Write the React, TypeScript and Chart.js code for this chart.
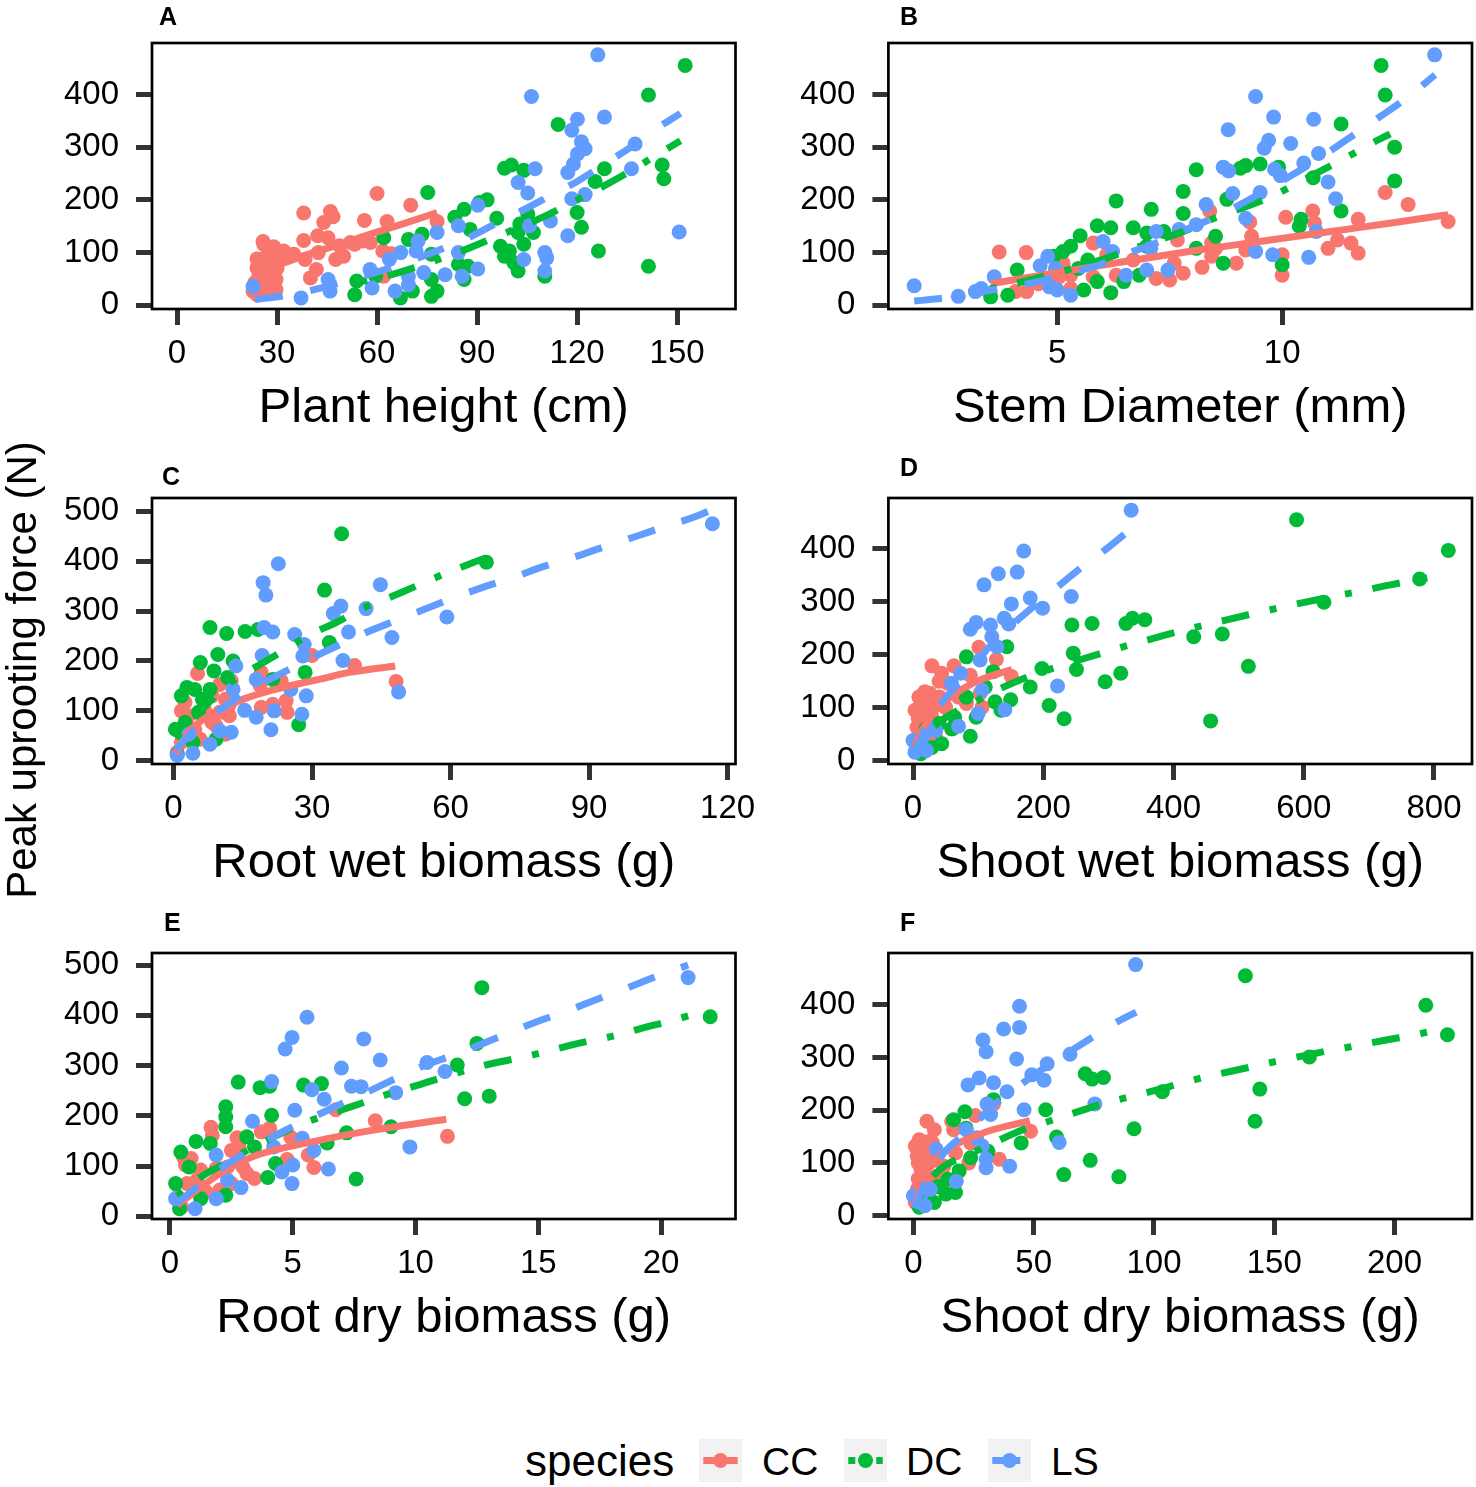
import { useEffect, useRef } from 'react'
import { Chart, registerables } from 'chart.js'

Chart.register(...registerables)

const FONT = "'Liberation Sans', Arial, Helvetica, sans-serif"
const CC_COLOR = '#F8766D'
const DC_COLOR = '#00BA38'
const LS_COLOR = '#619CFF'
const DASH_DC = [7, 21, 28, 21]
const DASH_LS = [28, 28]

type Pt = [number, number]

// y tick labels
const Y_TICKS_400 = [0, 100, 200, 300, 400]
const Y_TICKS_500 = [0, 100, 200, 300, 400, 500]

// A: plant height (cm)
const A_XTICKS = [0, 30, 60, 90, 120, 150]
const A_CC: Pt[] = [[60,212],[70.1,190],[38,175],[46,178],[44,157],[46.8,168],[56.2,161],[63,159],[78,159],[26,116],[29,111],[38,123],[42.2,132],[45.3,128],[52,119],[55.6,122],[58,119],[61.7,103],[64.3,98],[32,103],[35,97],[38.4,87],[42.4,100],[47.6,87],[50,93],[25.7,81],[24,71],[28,62],[40,52],[41.8,68],[23.4,43],[26.8,33],[22.8,27],[29.7,49],[30.9,87],[62,55],[48.7,113],[53.3,116],[24.5,55],[28.5,81],[29.7,30],[25.8,121],[27,95],[24,88],[26,60],[25,45],[27,40],[23,35],[28,75],[30,70],[24,20]]
const A_DC: Pt[] = [[152.4,455],[141.4,399],[114.3,343],[75.2,214],[98.2,260],[100.3,266],[104,256],[145.5,266],[146,240],[128.2,259],[125.4,235],[93,200],[90.7,195],[86.1,182],[83.3,167],[95.9,165],[105.2,173],[120,176],[121.3,148],[87.9,144],[102.8,154],[102.3,138],[106.9,138],[104,116],[97,112],[99.7,103],[98.2,93],[101,81],[102.3,65],[126.4,103],[141.4,74],[110.3,55],[62,128],[69.4,125],[73.5,135],[76.3,97],[84.4,78],[87.3,74],[86.1,49],[53.9,46],[53.3,20],[59.6,55],[67,14],[70.6,27],[76.3,17],[78,27],[76.3,49]]
const A_LS: Pt[] = [[126.2,475],[106.3,396],[120.1,353],[128.2,357],[118.4,332],[121.3,310],[122.4,297],[120.1,287],[118.9,268],[117.2,252],[137.4,306],[136.3,259],[107.4,259],[102.3,233],[105.2,213],[122.4,210],[118.4,202],[90.2,190],[112,160],[105.7,151],[117.2,132],[150.6,139],[84.4,151],[78,138],[72.3,122],[71.7,103],[67.1,100],[63.7,87],[110.3,100],[110.9,90],[104,87],[110.3,65],[90.2,69],[85.5,55],[57.9,68],[69.4,55],[74,62],[80.4,58],[58.5,33],[65.4,27],[69.4,39],[45.3,49],[45.9,27],[37.2,14],[22.8,36],[84.4,100]]
const A_CC_FIT: Pt[] = [[23.5,62],[30,76],[40,98],[50,118],[58,135],[68,155],[78,176]]
const A_DC_FIT: Pt[] = [[55,45],[62.5,55],[71,71],[87,107],[95,128],[111,171],[119.5,198],[134.5,249],[142,278],[151,312]]
const A_LS_FIT: Pt[] = [[23.4,11],[32,18],[42,31],[50,45],[60,63],[68,80],[79,106],[87,127],[95,153],[103,178],[112,208],[120,235],[128,267],[137,304],[144,336],[151,364]]

// B: stem diameter (mm)
const B_XTICKS = [5, 10]
const B_CC: Pt[] = [[12.29,214],[12.8,191],[13.69,159],[11.69,163],[10.08,167],[10.68,179],[10.72,156],[9.28,158],[8.39,179],[9.32,131],[8.43,118],[9.19,105],[11.02,108],[11.23,124],[11.53,118],[11.69,99],[10,96],[10,57],[8.98,80],[8.22,72],[7.5,48],[7.2,51],[7.8,61],[7.6,80],[7.67,124],[6.69,86],[5.8,118],[6.1,96],[6.31,57],[5.8,54],[5.13,80],[5.3,57],[5.3,32],[5.04,54],[4.83,45],[4.58,41],[4.32,26],[4.07,26],[3.71,101],[4.31,100],[8.52,108],[8.43,93]]
const B_DC: Pt[] = [[12.2,455],[12.29,399],[11.31,344],[12.5,300],[12.5,236],[11.31,179],[10.69,242],[10.42,163],[10.38,150],[9.92,262],[9.51,268],[9.19,265],[9.07,260],[8.09,257],[7.8,216],[8.77,201],[7.09,182],[7.8,174],[6.31,198],[5.89,151],[6.19,147],[6.69,147],[6.99,137],[7.37,140],[5.51,132],[5.3,112],[5.13,102],[6.99,112],[8.09,108],[8.52,131],[8.69,80],[10,77],[5.68,86],[5.47,70],[4.11,67],[6.48,45],[6.19,24],[5.59,29],[6.82,57],[5.89,45],[3.52,16],[3.9,19],[4.92,93]]
const B_LS: Pt[] = [[13.39,475],[9.41,396],[9.81,357],[10.7,353],[8.8,333],[9.7,313],[9.6,298],[10.19,307],[10.81,288],[10.48,270],[8.69,262],[8.81,255],[9.83,258],[9.96,246],[11.02,234],[11.19,202],[8.9,212],[9.51,214],[8.31,191],[9.19,165],[8.09,153],[7.71,144],[7.2,140],[7.08,108],[9.41,102],[9.79,96],[10.59,91],[10.76,140],[6.02,121],[6.23,102],[4.79,93],[4.62,75],[4.96,70],[6.99,67],[7.46,67],[6.53,57],[3.6,54],[4.83,35],[5,29],[5.3,19],[3.31,32],[3.18,26],[2.8,17],[1.82,37]]
const B_CC_FIT: Pt[] = [[3.52,41],[5,62],[6.5,83],[8,103],[9.5,121],[11,139],[12.5,157],[13.69,172]]
const B_DC_FIT: Pt[] = [[3.5,31],[4.24,45],[4.79,57],[5.97,86],[6.61,105],[7.92,144],[8.52,166],[9.7,204],[10.3,230],[11.44,281],[12.03,309],[12.4,325]]
const B_LS_FIT: Pt[] = [[1.82,8],[2.5,14],[3.14,24],[3.86,33],[4.62,46],[5.25,60],[5.97,78],[6.61,100],[7.29,121],[7.88,144],[8.56,169],[9.15,195],[9.79,226],[10.38,255],[11.02,290],[11.57,322],[12.16,357],[12.75,392],[13.4,437]]

// C: root wet biomass (g)
const C_XTICKS = [0, 30, 60, 90, 120]
const C_CC: Pt[] = [[30,211],[39.2,191],[48.2,159],[5.2,175],[10,153],[12.5,160],[19,177],[18.75,151],[23.3,160],[19,107],[21.5,113],[24.4,120],[24.6,97],[11.25,123],[8.3,130],[2.5,117],[1.7,100],[3.3,90],[2.5,70],[6.7,103],[10,97],[12.1,90],[9.2,70],[11.25,53],[5.8,43],[0.8,17],[1.7,37],[4.6,63],[12.1,113],[8.3,77],[3.3,50]]
const C_DC: Pt[] = [[36.4,455],[67.75,398],[32.7,342],[7.9,267],[11.5,255],[15.5,259],[18.3,263],[33.75,237],[9.6,213],[5.8,197],[8.75,180],[12.9,200],[28.5,177],[21.5,163],[2.9,147],[4.6,143],[7.9,143],[27.1,72],[0.4,63],[5.4,97],[1.7,130],[6.25,123],[9.2,43],[0.8,13],[4.2,37],[11.7,167],[2.5,77]]
const C_LS: Pt[] = [[116.7,475],[22.7,395],[19.4,357],[20,332],[44.8,353],[41.7,305],[36.25,310],[34.6,295],[19.6,267],[21.5,258],[26.25,253],[28.3,233],[37.9,258],[47.3,247],[59.2,288],[19.2,211],[28,210],[36.7,201],[13.5,190],[17.9,163],[25.4,143],[28.75,130],[48.75,138],[15.4,101],[17.9,87],[21.8,100],[27.8,93],[21.1,62],[12.5,57],[7.9,33],[4.2,15],[0.8,11],[12.9,143],[3.3,53],[10,60]]
const C_CC_FIT: Pt[] = [[0.5,15],[3,55],[6,80],[10,103],[15,123],[20,138],[26,152],[32,164],[38,177],[48,190]]
const C_DC_FIT: Pt[] = [[0.5,45],[4.2,83],[8.75,127],[13.3,163],[18.75,193],[24.2,223],[29.6,253],[35.4,278],[40.8,305],[46.7,327],[52.5,350],[58.3,373],[64.5,396],[67.7,407]]
const C_LS_FIT: Pt[] = [[0.5,22],[5.4,70],[11.25,110],[16.7,143],[22.9,173],[29.2,203],[35.4,230],[41.7,257],[47.9,280],[54.2,303],[60.8,327],[67.1,348],[73.75,368],[80,389],[86.7,408],[93.3,429],[99.6,448],[106.25,469],[112.9,489],[116.5,503]]

// D: shoot wet biomass (g)
const D_XTICKS = [0, 200, 400, 600, 800]
const D_CC: Pt[] = [[101,214],[128,191],[151,159],[29,179],[63,179],[44,165],[88,161],[103,127],[106,101],[59,60],[9,120],[20.5,95],[29,82],[41,120],[26,127],[6,63],[12,44],[35,44],[6,25],[17.6,32],[53,146],[70,120],[15,108],[35,70],[82,108],[3,95],[10,100],[18,130],[25,110],[8,80],[15,70],[40,150],[50,100]]
const D_DC: Pt[] = [[589,455],[822,397],[778,343],[631,299],[244,256],[275,259],[327,259],[337,269],[356,266],[431,234],[475,239],[246,203],[251,172],[198,174],[295,149],[319,165],[515,178],[457,75],[232,79],[209,104],[180,139],[144,215],[82,196],[123,168],[111,139],[150,115],[126,111],[135,95],[88,46],[97,82],[64,82],[44,32],[29,25],[12,13],[82,120],[20,60],[40,70],[60,60]]
const D_LS: Pt[] = [[335,473],[170,396],[131,353],[160,356],[109,332],[151,296],[180,307],[199,288],[243,310],[97,261],[88,248],[119,256],[140,269],[147,258],[121,234],[129,215],[103,190],[222,141],[141,96],[100,89],[70,65],[35,57],[0,38],[3,16],[20.5,19],[73,165],[59,146],[106,133],[8,30],[15,45],[30,60]]
const D_CC_FIT: Pt[] = [[3,28],[15,60],[35,95],[60,122],[90,145],[120,160],[152,172]]
const D_DC_FIT: Pt[] = [[5,25],[20,50],[47,79],[91,108],[129,133],[170,155],[214,174],[298,206],[343,222],[384,236],[428,250],[472,263],[513,275],[557,287],[601,299],[645,310],[687,320],[733,332],[820,352]]
const D_LS_FIT: Pt[] = [[2,12],[20.5,63],[47,114],[85,165],[117,215],[150,254],[185,291],[217,323],[258,364],[296,399],[337,440]]

// E: root dry biomass (g)
const E_XTICKS = [0, 5, 10, 15, 20]
const E_CC: Pt[] = [[8.36,190],[11.3,159],[6.75,212],[1.67,177],[1.72,161],[2.73,156],[3.72,168],[4.06,175],[4.92,157],[4.77,113],[5.63,122],[5.86,97],[2.97,98],[3.44,75],[3.13,85],[2.5,131],[0.55,118],[0.86,115],[0.63,102],[1.25,92],[1.88,95],[1.1,72],[0.7,65],[0.31,38],[1.48,48],[2.03,52],[2.5,65],[0.47,19],[2.34,98],[2.81,138]]
const E_DC: Pt[] = [[12.7,455],[22,397],[12.5,344],[11.7,301],[12,234],[13,239],[2.78,267],[3.67,256],[4.06,259],[5.44,261],[6.17,264],[2.27,218],[2.27,198],[2.27,178],[4.14,201],[1.06,149],[1.64,145],[0.44,128],[7.19,166],[9,178],[6.4,146],[7.58,74],[3.98,77],[4.3,105],[3.44,138],[0.23,65],[0.39,15],[1.25,35],[2.27,42],[3.13,158],[0.78,98]]
const E_LS: Pt[] = [[21.1,475],[5.58,396],[4.97,356],[4.69,333],[7.89,353],[8.56,311],[6.98,295],[10.47,306],[11.2,288],[4.14,268],[5.78,252],[6.28,233],[7.39,259],[7.78,258],[9.19,246],[5.08,211],[3.36,189],[5.39,155],[5.86,131],[9.77,138],[6.45,94],[4.56,88],[4.97,65],[5,102],[1.88,122],[2.89,57],[1.88,35],[1.02,15],[0.23,35],[4.22,138],[2.34,72]]
const E_CC_FIT: Pt[] = [[0.3,22],[1.25,58],[2.2,90],[3.44,120],[5.78,148],[8.1,170],[11.25,193]]
const E_DC_FIT: Pt[] = [[0.3,40],[1.25,78],[2.34,108],[3.4,138],[4.53,165],[5.6,188],[6.64,206],[7.8,225],[9,245],[10.1,261],[11.2,278],[12.3,294],[13.4,307],[14.6,319],[15.8,334],[16.9,347],[18,358],[19.2,374],[20.4,389],[21.9,410]]
const E_LS_FIT: Pt[] = [[0.25,25],[1.1,58],[2.27,102],[3.28,132],[4.45,165],[5.55,191],[6.72,218],[7.89,244],[9.14,273],[10.3,299],[11.56,321],[12.66,342],[13.9,367],[15.1,390],[16.3,411],[17.5,434],[18.75,457],[19.9,479],[21.1,500]]

// F: shoot dry biomass (g)
const F_XTICKS = [0, 50, 100, 150, 200]
const F_CC: Pt[] = [[5.6,179],[8.7,163],[15.9,179],[16.7,163],[25.7,190],[33.3,212],[48.7,160],[35.7,107],[23,100],[0.8,132],[4.8,126],[7.9,138],[1.6,113],[6.3,100],[3.2,88],[9.5,75],[5.6,63],[1.6,50],[11.9,57],[0.8,25],[6.3,38],[17.5,119],[12.7,94],[23.8,138],[2.4,144],[8.7,119],[2,100],[4,90],[3,120],[6,140],[10,105],[2,70],[5,110]]
const F_DC: Pt[] = [[138,455],[213,399],[222,343],[164.6,301],[71.4,269],[74.3,259],[79,262],[103.5,235],[144,240],[142,179],[91.7,165],[55,201],[59.5,149],[44.8,138],[73.5,105],[62.5,78],[85.4,74],[33.3,220],[21.4,197],[16.7,182],[21.9,166],[31,122],[23.8,110],[19,85],[17.5,44],[13.5,41],[8.7,25],[2.4,16],[14.3,69],[5,40],[10,55]]
const F_LS: Pt[] = [[92.4,476],[44.1,397],[37.5,354],[44.1,357],[28.9,333],[30.2,311],[42.9,297],[65.1,306],[55.6,288],[49.2,267],[54.3,257],[22.7,248],[27.3,261],[33.3,252],[38.9,235],[30.6,212],[32.1,192],[46,201],[75.4,212],[60.6,139],[40,94],[30.2,91],[30.2,107],[17.8,65],[21.9,163],[26.2,148],[28.6,132],[0,38],[4.8,19],[9.5,126],[3,30],[7,50]]
const F_CC_FIT: Pt[] = [[1,20],[3,55],[7,95],[12,118],[17.5,135],[25,150],[33,163],[48.4,180]]
const F_DC_FIT: Pt[] = [[2,30],[5,55],[11.1,88],[23,116],[33.3,138],[44.4,161],[56.3,179],[67.5,196],[78.6,212],[91.3,227],[102.4,240],[114.3,255],[126.2,268],[137.3,279],[149.2,291],[161.9,303],[173,313],[185,323],[197.6,334],[208.7,343],[221.4,357]]
const F_LS_FIT: Pt[] = [[0.5,14],[5.6,69],[12.7,119],[23.8,165],[31.7,203],[41.3,237],[52.4,274],[65,311],[74.6,339],[85.7,370],[92.6,386]]

interface PanelSpec {
  letter: string
  title: string
  col: number
  row: number
  xRange: [number, number]
  xTicks: number[]
  yRange: [number, number]
  yTicks: number[]
  cc: Pt[]
  dc: Pt[]
  ls: Pt[]
  ccFit: Pt[]
  dcFit: Pt[]
  lsFit: Pt[]
  letterPos: [number, number]
}

const PANELS: PanelSpec[] = [
  { letter: 'A', title: 'Plant height (cm)', col: 0, row: 0, xRange: [-7.5, 167.5], xTicks: A_XTICKS, yRange: [-7, 497.5], yTicks: Y_TICKS_400, cc: A_CC, dc: A_DC, ls: A_LS, ccFit: A_CC_FIT, dcFit: A_DC_FIT, lsFit: A_LS_FIT, letterPos: [159, 3.5] },
  { letter: 'B', title: 'Stem Diameter (mm)', col: 1, row: 0, xRange: [1.247, 14.22], xTicks: B_XTICKS, yRange: [-7, 497.5], yTicks: Y_TICKS_400, cc: B_CC, dc: B_DC, ls: B_LS, ccFit: B_CC_FIT, dcFit: B_DC_FIT, lsFit: B_LS_FIT, letterPos: [900, 3.5] },
  { letter: 'C', title: 'Root wet biomass (g)', col: 0, row: 1, xRange: [-4.66, 121.7], xTicks: C_XTICKS, yRange: [-6.6, 526.7], yTicks: Y_TICKS_500, cc: C_CC, dc: C_DC, ls: C_LS, ccFit: C_CC_FIT, dcFit: C_DC_FIT, lsFit: C_LS_FIT, letterPos: [162, 463.5] },
  { letter: 'D', title: 'Shoot wet biomass (g)', col: 1, row: 1, xRange: [-37.8, 858.4], xTicks: D_XTICKS, yRange: [-6.4, 496], yTicks: Y_TICKS_400, cc: D_CC, dc: D_DC, ls: D_LS, ccFit: D_CC_FIT, dcFit: D_DC_FIT, lsFit: D_LS_FIT, letterPos: [900, 454.5] },
  { letter: 'E', title: 'Root dry biomass (g)', col: 0, row: 2, xRange: [-0.733, 23.03], xTicks: E_XTICKS, yRange: [-5.5, 524], yTicks: Y_TICKS_500, cc: E_CC, dc: E_DC, ls: E_LS, ccFit: E_CC_FIT, dcFit: E_DC_FIT, lsFit: E_LS_FIT, letterPos: [164, 909.5] },
  { letter: 'F', title: 'Shoot dry biomass (g)', col: 1, row: 2, xRange: [-10.4, 232.2], xTicks: F_XTICKS, yRange: [-6.2, 498], yTicks: Y_TICKS_400, cc: F_CC, dc: F_DC, ls: F_LS, ccFit: F_CC_FIT, dcFit: F_DC_FIT, lsFit: F_LS_FIT, letterPos: [900, 909.5] },
]

// canvas geometry per column / row
const COLS = [
  { left: 30, width: 740, axisWidth: 122, rightPad: 34.5 },
  { left: 775, width: 701, axisWidth: 113.4, rightPad: 4 },
]
const ROW_TOPS = [0, 455, 910]
const CANVAS_H = 440
const PLOT_TOP = 43
const X_AXIS_H = 131

const toXY = (pts: Pt[]) => pts.map(([x, y]) => ({ x, y }))

const panelBorder = {
  id: 'panelBorder',
  afterDraw(chart: Chart) {
    const { ctx, chartArea: a } = chart
    ctx.save()
    ctx.strokeStyle = '#000000'
    ctx.lineWidth = 2.7
    ctx.strokeRect(a.left, a.top, a.right - a.left, a.bottom - a.top)
    ctx.restore()
  },
}

function fitSet(pts: Pt[], color: string, dash: number[]) {
  return {
    data: toXY(pts),
    showLine: true,
    borderColor: color,
    borderWidth: 7,
    borderDash: dash,
    borderCapStyle: 'butt' as const,
    borderJoinStyle: 'round' as const,
    cubicInterpolationMode: 'monotone' as const,
    pointRadius: 0,
    pointHoverRadius: 0,
    fill: false,
  }
}

function pointSet(pts: Pt[], color: string) {
  return {
    data: toXY(pts),
    showLine: false,
    pointBackgroundColor: color,
    pointBorderColor: color,
    backgroundColor: color,
    pointBorderWidth: 0,
    pointRadius: 7.5,
    pointHoverRadius: 7.5,
  }
}

const gridOpts = {
  display: true,
  drawOnChartArea: false,
  drawTicks: true,
  tickLength: 16,
  tickWidth: 5,
  tickColor: '#333333',
}

function Panel({ spec }: { spec: PanelSpec }) {
  const canvasRef = useRef<HTMLCanvasElement>(null)
  const col = COLS[spec.col]

  useEffect(() => {
    if (!canvasRef.current) return
    const chart = new Chart(canvasRef.current, {
      type: 'scatter',
      data: {
        // first dataset is drawn on top
        datasets: [
          fitSet(spec.lsFit, LS_COLOR, DASH_LS),
          fitSet(spec.dcFit, DC_COLOR, DASH_DC),
          fitSet(spec.ccFit, CC_COLOR, []),
          pointSet(spec.ls, LS_COLOR),
          pointSet(spec.dc, DC_COLOR),
          pointSet(spec.cc, CC_COLOR),
        ] as any,
      },
      options: {
        animation: false,
        responsive: false,
        maintainAspectRatio: false,
        events: [],
        layout: { autoPadding: false, padding: { top: PLOT_TOP, right: col.rightPad, left: 0, bottom: 0 } },
        plugins: { legend: { display: false }, tooltip: { enabled: false }, title: { display: false } },
        scales: {
          x: {
            type: 'linear',
            min: spec.xRange[0],
            max: spec.xRange[1],
            afterBuildTicks: (s: any) => {
              s.ticks = spec.xTicks.map((v) => ({ value: v }))
            },
            afterFit: (s: any) => {
              s.height = X_AXIS_H
            },
            grid: gridOpts,
            border: { display: false },
            ticks: {
              color: '#000000',
              font: { family: FONT, size: 33 },
              padding: 9,
              maxRotation: 0,
              minRotation: 0,
              autoSkip: false,
              callback: (v: any) => String(v),
            },
            title: {
              display: true,
              text: spec.title,
              color: '#000000',
              font: { family: FONT, size: 49 },
              padding: { top: 0, bottom: 2 },
            },
          },
          y: {
            type: 'linear',
            min: spec.yRange[0],
            max: spec.yRange[1],
            afterBuildTicks: (s: any) => {
              s.ticks = spec.yTicks.map((v) => ({ value: v }))
            },
            afterFit: (s: any) => {
              s.width = col.axisWidth
            },
            grid: gridOpts,
            border: { display: false },
            ticks: {
              color: '#000000',
              font: { family: FONT, size: 33 },
              padding: 17,
              autoSkip: false,
              callback: (v: any) => String(v),
            },
          },
        },
      },
      plugins: [panelBorder],
    })
    return () => chart.destroy()
  }, [spec])

  return (
    <canvas
      ref={canvasRef}
      width={col.width}
      height={CANVAS_H}
      style={{ position: 'absolute', left: col.left, top: ROW_TOPS[spec.row], width: col.width, height: CANVAS_H }}
    />
  )
}

function LegendKey({ left, color, dash }: { left: number; color: string; dash: number[] }) {
  return (
    <svg width={43} height={43} style={{ position: 'absolute', left, top: 1439 }}>
      <rect x={0} y={0} width={43} height={43} fill="#F2F2F2" />
      <line x1={4.3} x2={38.7} y1={21.5} y2={21.5} stroke={color} strokeWidth={7} strokeDasharray={dash.length ? dash.join(' ') : undefined} />
      <circle cx={21.5} cy={21.5} r={7.5} fill={color} />
    </svg>
  )
}

const textAt = (left: number, top: number, size: number, extra: object = {}) => ({
  position: 'absolute' as const,
  left,
  top,
  fontSize: size,
  lineHeight: 1,
  fontFamily: FONT,
  color: '#000000',
  whiteSpace: 'nowrap' as const,
  ...extra,
})

export default function App() {
  return (
    <div style={{ position: 'absolute', left: 0, top: 0, width: 1476, height: 1487, background: '#ffffff', overflow: 'hidden' }}>
      {PANELS.map((p) => (
        <Panel key={p.letter} spec={p} />
      ))}
      {PANELS.map((p) => (
        <div key={'l' + p.letter} style={textAt(p.letterPos[0], p.letterPos[1], 25, { fontWeight: 'bold' })}>
          {p.letter}
        </div>
      ))}
      <div
        style={textAt(22 - 300, 670 - 21, 42, {
          width: 600,
          height: 42,
          textAlign: 'center',
          transform: 'rotate(-90deg)',
          transformOrigin: '50% 50%',
        })}
      >
        Peak uprooting force (N)
      </div>
      <div style={textAt(525, 1438.5, 44)}>species</div>
      <LegendKey left={699} color={CC_COLOR} dash={[]} />
      <div style={textAt(762, 1442, 39)}>CC</div>
      <LegendKey left={844} color={DC_COLOR} dash={DASH_DC} />
      <div style={textAt(906, 1442, 39)}>DC</div>
      <LegendKey left={988} color={LS_COLOR} dash={DASH_LS} />
      <div style={textAt(1051, 1442, 39)}>LS</div>
    </div>
  )
}
